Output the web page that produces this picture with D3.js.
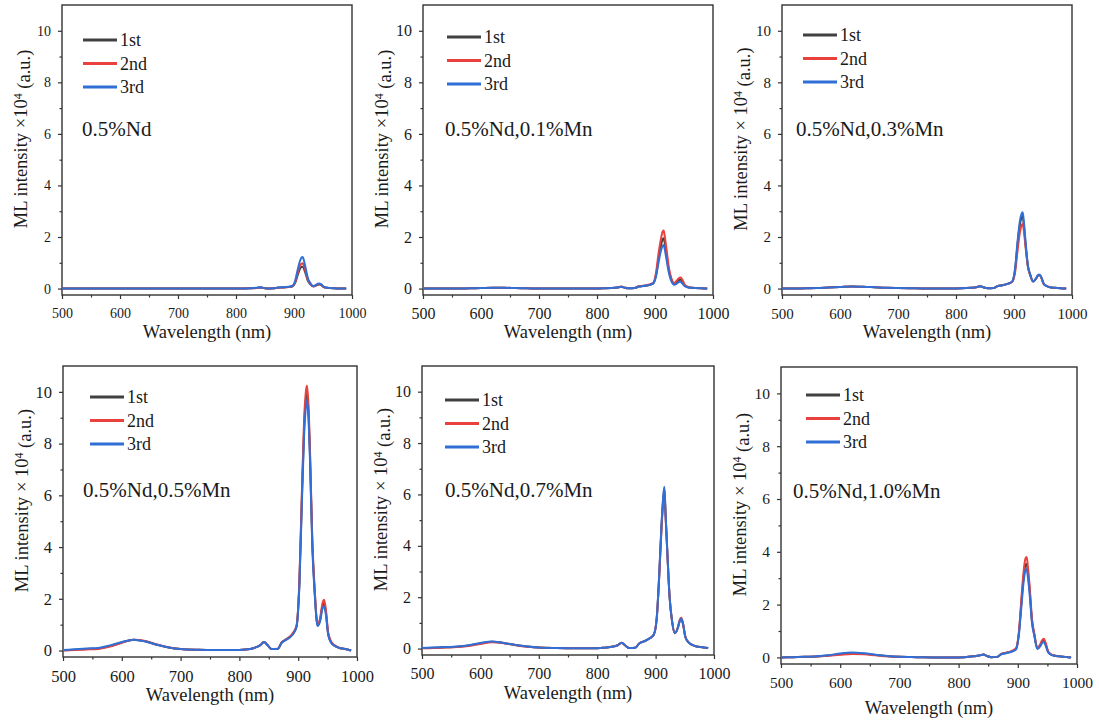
<!DOCTYPE html>
<html>
<head>
<meta charset="utf-8">
<script src="https://cdn.jsdelivr.net/npm/d3@7/dist/d3.min.js"></script>
<style>
body{margin:0;background:#fff}
</style>
</head>
<body>
<svg id="chart" width="1099" height="724"></svg>
<script>
// shared wavelength grid (nm)
const wavelength = [500,520,540,560,580,600,620,640,660,680,700,730,760,790,810,
    825,835,842,848,855,865,872,880,890,897,902,906,910,913,915,
    917,920,924,928,933,938,941,944,947,951,956,962,970,980,990]
const runs = ['1st','2nd','3rd']
const samples = ['0.5%Nd','0.5%Nd,0.1%Mn','0.5%Nd,0.3%Mn','0.5%Nd,0.5%Mn','0.5%Nd,0.7%Mn','0.5%Nd,1.0%Mn']
const xTicks = [500,600,700,800,900,1000]
const xMinor = [550,650,750,850,950]
const yTicks = [0,2,4,6,8,10]
const yMinor = [1,3,5,7,9]

// ML intensity x10^4, one array per run
const nd_1st = [0,0,0,0,0,0,0,0,0,0,0,0,0,0,0,
    0.01,0.02,0.04,0.02,0,0.01,0.03,0.04,0.06,0.08,0.22,0.5,0.75,0.84,0.85,
    0.78,0.58,0.3,0.17,0.08,0.11,0.15,0.16,0.13,0.06,0.03,0.02,0.01,0,0]
const nd_2nd = [0,0,0,0,0,0,0,0,0,0,0,0,0,0,0,
    0.01,0.02,0.04,0.02,0,0.01,0.03,0.04,0.06,0.09,0.25,0.58,0.86,0.97,0.98,
    0.9,0.66,0.34,0.19,0.09,0.12,0.17,0.18,0.14,0.07,0.03,0.02,0.01,0,0]
const nd_3rd = [0,0,0,0,0,0,0,0,0,0,0,0,0,0,0,
    0.01,0.03,0.05,0.02,0,0.01,0.04,0.05,0.07,0.1,0.3,0.7,1.05,1.2,1.22,
    1.1,0.8,0.4,0.22,0.1,0.14,0.19,0.2,0.16,0.08,0.04,0.02,0.01,0,0]

const mn01_1st = [0,0,0,0,0.01,0.02,0.03,0.03,0.02,0.01,0,0,0,0,0.01,
    0.02,0.04,0.07,0.03,0.01,0.02,0.08,0.1,0.14,0.2,0.55,1.15,1.65,1.9,1.95,
    1.75,1.3,0.7,0.36,0.18,0.26,0.33,0.35,0.28,0.13,0.06,0.03,0.02,0.01,0]
const mn01_2nd = [0,0,0,0,0.01,0.02,0.03,0.03,0.02,0.01,0,0,0,0,0.01,
    0.02,0.04,0.08,0.03,0.01,0.02,0.09,0.11,0.16,0.22,0.65,1.35,1.9,2.2,2.25,
    2.0,1.5,0.8,0.42,0.22,0.32,0.4,0.43,0.35,0.16,0.07,0.04,0.02,0.01,0]
const mn01_3rd = [0,0,0,0,0.01,0.02,0.03,0.03,0.02,0.01,0,0,0,0,0.01,
    0.02,0.04,0.07,0.03,0.01,0.02,0.08,0.1,0.14,0.2,0.5,1.0,1.45,1.65,1.69,
    1.5,1.1,0.6,0.3,0.15,0.2,0.25,0.26,0.2,0.1,0.05,0.03,0.02,0.01,0]

const mn03_1st = [0,0,0.01,0.02,0.04,0.06,0.08,0.07,0.05,0.03,0.02,0.01,0,0,0.01,
    0.03,0.05,0.09,0.04,0.01,0.02,0.1,0.13,0.19,0.27,0.75,1.7,2.45,2.75,2.8,
    2.45,1.7,0.85,0.52,0.27,0.38,0.5,0.53,0.43,0.19,0.1,0.05,0.03,0.01,0]
const mn03_2nd = [0,0,0.01,0.02,0.04,0.06,0.08,0.07,0.05,0.03,0.02,0.01,0,0,0.01,
    0.03,0.05,0.09,0.04,0.01,0.02,0.1,0.13,0.19,0.26,0.65,1.45,2.15,2.45,2.5,
    2.25,1.6,0.85,0.52,0.27,0.38,0.5,0.53,0.43,0.19,0.1,0.05,0.03,0.01,0]
const mn03_3rd = [0,0,0.01,0.02,0.04,0.06,0.08,0.07,0.05,0.03,0.02,0.01,0,0,0.01,
    0.03,0.05,0.09,0.04,0.01,0.02,0.1,0.13,0.19,0.28,0.8,1.8,2.6,2.9,2.96,
    2.6,1.8,0.9,0.55,0.28,0.4,0.52,0.55,0.45,0.2,0.1,0.05,0.03,0.01,0]

const mn05_1st = [0.01,0.03,0.06,0.08,0.17,0.31,0.42,0.36,0.22,0.12,0.06,0.03,0.02,0.02,0.04,
    0.1,0.2,0.33,0.2,0.06,0.06,0.31,0.43,0.62,0.92,2.6,5.7,8.6,9.7,9.95,
    9.45,7.6,4.15,2.3,0.97,1.28,1.7,1.83,1.5,0.65,0.32,0.19,0.1,0.06,0]
const mn05_2nd = [0,0.02,0.04,0.06,0.15,0.3,0.42,0.37,0.23,0.12,0.06,0.03,0.02,0.02,0.04,
    0.1,0.2,0.33,0.2,0.06,0.07,0.32,0.45,0.65,0.95,2.7,5.9,8.9,10.0,10.25,
    9.7,7.8,4.3,2.4,1.0,1.35,1.8,1.96,1.6,0.7,0.35,0.2,0.11,0.06,0]
const mn05_3rd = [0.02,0.05,0.08,0.1,0.2,0.33,0.42,0.35,0.22,0.12,0.06,0.03,0.02,0.02,0.04,
    0.1,0.2,0.33,0.2,0.06,0.06,0.3,0.42,0.6,0.9,2.5,5.5,8.3,9.4,9.7,
    9.2,7.4,4.0,2.2,0.95,1.2,1.6,1.7,1.4,0.6,0.3,0.18,0.1,0.06,0]

const mn07_1st = [0.02,0.03,0.05,0.07,0.12,0.2,0.27,0.22,0.14,0.08,0.04,0.02,0.01,0.01,0.03,
    0.07,0.13,0.23,0.12,0.02,0.03,0.2,0.28,0.4,0.55,1.2,2.75,4.7,5.8,6.2,
    5.25,3.8,2.0,1.1,0.6,0.8,1.05,1.15,0.95,0.45,0.25,0.15,0.08,0.05,0.02]
const mn07_2nd = [0.01,0.02,0.04,0.06,0.1,0.18,0.25,0.21,0.13,0.07,0.04,0.02,0.01,0.01,0.03,
    0.07,0.13,0.22,0.12,0.02,0.03,0.2,0.28,0.4,0.55,1.2,2.7,4.6,5.7,6.1,
    5.2,3.75,2.0,1.1,0.6,0.82,1.1,1.2,0.97,0.46,0.25,0.15,0.08,0.05,0.02]
const mn07_3rd = [0.02,0.04,0.06,0.08,0.13,0.22,0.28,0.22,0.14,0.08,0.04,0.02,0.01,0.01,0.03,
    0.07,0.13,0.23,0.12,0.02,0.03,0.2,0.28,0.4,0.55,1.2,2.8,4.8,5.9,6.3,
    5.3,3.8,2.0,1.1,0.6,0.8,1.05,1.17,0.95,0.45,0.25,0.15,0.08,0.05,0.02]

const mn10_1st = [0,0.01,0.02,0.035,0.07,0.12,0.16,0.14,0.09,0.045,0.02,0.01,0,0,0.01,
    0.04,0.07,0.11,0.05,0.01,0.02,0.12,0.17,0.23,0.32,0.95,2.05,3.1,3.5,3.55,
    3.25,2.55,1.38,0.85,0.34,0.46,0.6,0.65,0.5,0.22,0.11,0.06,0.04,0.02,0]
const mn10_2nd = [0,0.01,0.02,0.03,0.06,0.1,0.13,0.12,0.08,0.04,0.02,0.01,0,0,0.01,
    0.04,0.07,0.11,0.05,0.01,0.02,0.13,0.18,0.25,0.35,1.0,2.2,3.3,3.75,3.8,
    3.45,2.7,1.45,0.9,0.36,0.5,0.65,0.71,0.55,0.25,0.12,0.07,0.04,0.02,0]
const mn10_3rd = [0,0.01,0.02,0.04,0.08,0.15,0.19,0.16,0.1,0.05,0.02,0.01,0,0,0.01,
    0.04,0.07,0.11,0.05,0.01,0.02,0.12,0.16,0.22,0.3,0.9,1.9,2.9,3.3,3.35,
    3.05,2.4,1.3,0.8,0.32,0.42,0.55,0.58,0.45,0.2,0.1,0.06,0.04,0.02,0]

const series = [
    [nd_1st, nd_2nd, nd_3rd],
    [mn01_1st, mn01_2nd, mn01_3rd],
    [mn03_1st, mn03_2nd, mn03_3rd],
    [mn05_1st, mn05_2nd, mn05_3rd],
    [mn07_1st, mn07_2nd, mn07_3rd],
    [mn10_1st, mn10_2nd, mn10_3rd]
]

// panel boxes and small per-panel offsets
const layout = [
    {x:62,  y:5,   w:290, h:290, fs:14,   leg:[21,35], lab:20, xt:43, times:'×'},
    {x:423, y:5,   w:290, h:290, fs:16,   leg:[24,32], lab:22, xt:43, times:'×'},
    {x:782, y:5,   w:290, h:290, fs:15,   leg:[21,30], lab:14, xt:43, times:'× '},
    {x:63,  y:366, w:294, h:291, fs:16.5, leg:[27,31], lab:20, xt:44, times:'× '},
    {x:422, y:366, w:292, h:289, fs:16,   leg:[23,34], lab:23, xt:44, times:'× '},
    {x:781, y:367, w:296, h:297, fs:15.5, leg:[25,28], lab:12, xt:50, times:'× '}
]
const colors = ['#404040','#e8413e','#2f6fd6']
const serif = '"Liberation Serif", "Times New Roman", "DejaVu Serif", serif'

let svg = d3.select('#chart')

samples.forEach((name,i)=>{
    let p = layout[i]
    let g = svg.append('g').attr('transform',`translate(${p.x},${p.y})`)
    let x = d3.scaleLinear().domain([500,1000]).range([0,p.w])
    let y = d3.scaleLinear().domain([-0.25,11]).range([p.h,0])

    // axes
    let xa = g.append('g').attr('transform',`translate(0,${p.h})`)
        .call(d3.axisBottom(x).tickValues(xTicks).tickFormat(d3.format('d')).tickSize(4).tickPadding(9))
    g.append('g').attr('transform',`translate(0,${p.h})`)
        .call(d3.axisBottom(x).tickValues(xMinor).tickSize(2.5).tickFormat(''))
    let ya = g.append('g')
        .call(d3.axisLeft(y).tickValues(yTicks).tickFormat(d3.format('d')).tickSize(4).tickPadding(7))
    g.append('g')
        .call(d3.axisLeft(y).tickValues(yMinor).tickSize(2.5).tickFormat(''))
    g.selectAll('.domain').remove()
    g.selectAll('.tick line').attr('stroke','#333').attr('stroke-width',1.2)
    xa.attr('font-family',null)
    ya.attr('font-family',null)
    xa.selectAll('text').style('font-size',p.fs+'px')
    ya.selectAll('text').style('font-size',p.fs+'px')

    g.append('rect')
        .attr('width',p.w).attr('height',p.h)
        .attr('fill','none').attr('stroke','#333').attr('stroke-width',1.4)

    // spectra
    let line = d3.line()
        .x((d,j)=>x(wavelength[j]))
        .y(d=>y(d))
        .curve(d3.curveMonotoneX)
    series[i].forEach((vals,k)=>{
        g.append('path')
            .datum(vals)
            .attr('d',line)
            .attr('fill','none')
            .attr('stroke',colors[k])
            .attr('stroke-width',2)
            .attr('stroke-linejoin','round')
    })

    // legend
    runs.forEach((r,k)=>{
        let ly = p.leg[1] + k*23.5
        g.append('line')
            .attr('x1',p.leg[0]).attr('x2',p.leg[0]+34)
            .attr('y1',ly).attr('y2',ly)
            .attr('stroke',colors[k]).attr('stroke-width',3)
        g.append('text')
            .attr('x',p.leg[0]+37).attr('y',ly)
            .attr('dy','0.35em')
            .style('font-size','18px')
            .text(r)
    })
    g.append('text')
        .attr('x',p.lab).attr('y',124)
        .attr('dy','0.35em')
        .style('font-size','21px')
        .text(name)

    // axis titles
    g.append('text')
        .attr('x',p.w/2).attr('y',p.h+p.xt)
        .attr('text-anchor','middle')
        .style('font-size','18.5px')
        .text('Wavelength (nm)')
    let yt = g.append('text')
        .attr('transform',`translate(-35,${p.h/2-11}) rotate(-90)`)
        .attr('text-anchor','middle')
        .style('font-size','18.5px')
    yt.append('tspan').text('ML intensity '+p.times+'10')
    yt.append('tspan').attr('dy','-0.45em').style('font-size','12px').text('4')
    yt.append('tspan').attr('dy','0.45em').text(' (a.u.)')
})

svg.selectAll('text')
    .style('font-family',serif)
    .attr('fill','#1a1a1a')
</script>
</body>
</html>
